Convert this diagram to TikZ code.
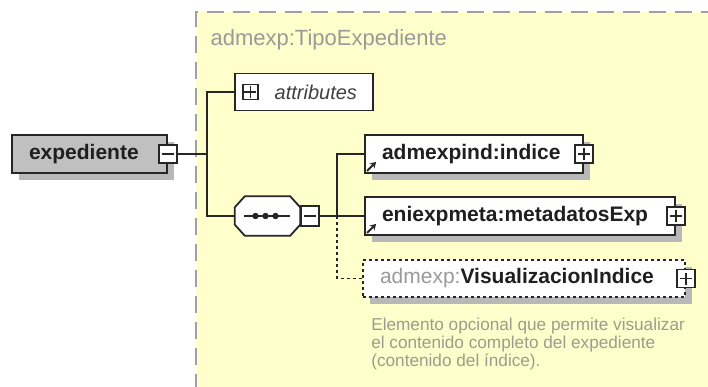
\documentclass[tikz,border=0pt]{standalone}
\usepackage{fontspec}
\setmainfont{Liberation Sans}
\usetikzlibrary{positioning}
\usetikzlibrary{shadows}
\usetikzlibrary{arrows.meta}
\definecolor{panelyellow}{HTML}{FFFFCC}
\definecolor{paneledge}{HTML}{A0A0A0}
\definecolor{shadowgray}{HTML}{B8B8B8}
\definecolor{elemgray}{HTML}{C0C0C0}
\definecolor{titlegray}{HTML}{9A9A9A}
\definecolor{notegray}{HTML}{9C9C8E}

\begin{document}
\begin{tikzpicture}[x=1pt, y=-1pt,  elem/.style={    draw=black!85,    fill=white,    rectangle,    minimum height=38pt,    inner xsep=17pt,    inner ysep=0pt,    align=left,    text=black!88,    font=\fontsize{21}{24}\selectfont\bfseries,    line width=1.8pt,    drop shadow={shadow xshift=7pt, shadow yshift=-7pt, fill=shadowgray, opacity=1}  },  minusbox/.style={    draw=black!85,    fill=white,    minimum size=18pt,    inner sep=0pt,    line width=1.6pt,    path picture={\draw[black!85, line width=1.6pt] ([xshift=-6pt]path picture bounding box.center) -- ([xshift=6pt]path picture bounding box.center);}  },  plusbox/.style={    minusbox,    path picture={\draw[black!85, line width=1.6pt] ([xshift=-6pt]path picture bounding box.center) -- ([xshift=6pt]path picture bounding box.center);      \draw[black!85, line width=1.6pt] ([yshift=-6pt]path picture bounding box.center) -- ([yshift=6pt]path picture bounding box.center);}  },  seqbox/.style={    rectangle,    minimum width=65pt,    minimum height=39pt,    inner sep=0pt  },  refarrow/.style={    -{Stealth[length=6pt,width=7pt]},    line width=2pt,    black!85  },  link/.style={    draw=black!85,    line width=1.8pt  },  optlink/.style={    link,    dash pattern=on 3pt off 3pt  }]
		\useasboundingbox (0,0) rectangle (708,387);
		% Panel
		\fill[panelyellow] (196,12) rectangle (712,391);
		\draw[paneledge, line width=2pt, dash pattern=on 17pt off 9pt] (196,391) -- (196,12) -- (712,12);
		\node[anchor=base west, text=titlegray, font=\fontsize{22}{26}\selectfont] (typename) at (207,46) {admexp:TipoExpediente};
		% Nodes
		\node[elem, fill=elemgray, text width=121pt] (exp) at (89.5,154) {expediente};
		\node[minusbox] (expmin) at (exp.east) {};
		\node[draw=black!85, fill=white, line width=1.8pt, minimum height=37pt, inner xsep=16pt, text width=106pt, align=right, text=black!75, font=\fontsize{20}{24}\selectfont\itshape] (attr) at (304,92) {attributes};
		\node[plusbox, minimum size=15pt, right=8pt of attr.west] (attrplus) {};
		\node[seqbox] (seq) at (267.5,216) {};
		\fill[shadowgray, shift={(6,6)}] ([xshift=10pt]seq.north west) -- ([xshift=-10pt]seq.north east) -- ([yshift=-11pt]seq.north east) -- ([yshift=11pt]seq.south east) -- ([xshift=-10pt]seq.south east) -- ([xshift=10pt]seq.south west) -- ([yshift=11pt]seq.south west) -- ([yshift=-11pt]seq.north west) -- cycle;
		\filldraw[fill=white, draw=black!85, line width=1.8pt] ([xshift=10pt]seq.north west) -- ([xshift=-10pt]seq.north east) -- ([yshift=-11pt]seq.north east) -- ([yshift=11pt]seq.south east) -- ([xshift=-10pt]seq.south east) -- ([xshift=10pt]seq.south west) -- ([yshift=11pt]seq.south west) -- ([yshift=-11pt]seq.north west) -- cycle;
		\draw[black!85, line width=1.8pt] ([xshift=-24pt]seq.center) -- ([xshift=22pt]seq.center);
		\foreach \dx in {-12,-2,8}
			\fill[black!85] ([xshift=\dx pt]seq.center) circle (3.2pt);
		\node[minusbox, minimum height=20pt, right=0pt of seq] (seqmin) {};
		\node[elem, text width=184pt] (ind) at (474,154) {admexpind:indice};
		\node[plusbox] (indplus) at (ind.east) {};
		\node[elem, text width=276pt] (met) at (520,216) {eniexpmeta:metadatosExp};
		\node[plusbox] (metplus) at (met.east) {};
		\node[elem, dash pattern=on 3pt off 3pt, minimum height=37pt, text width=288pt] (vis) at (524,278.5) {\textcolor{titlegray}{\mdseries admexp:}VisualizacionIndice};
		\node[plusbox] (visplus) at (vis.east) {};
		\node[below right=20pt and 9pt of vis.south west, inner sep=0pt, align=left, text=notegray, font=\fontsize{17.2}{17.8}\selectfont] (note) {Elemento opcional que permite visualizar\\el contenido completo del expediente\\(contenido del índice).};
		% Arrows
		\coordinate (fork) at (207,154);
		\coordinate (fork2) at (337,216);
		\draw[link] (expmin) -- (fork) |- (attr);
		\draw[link] (fork) |- (seq);
		\draw[link] (seqmin) -- (fork2) |- (ind);
		\draw[link] (fork2) -- (met);
		\draw[optlink] (fork2) |- (vis);
		\draw[refarrow] ([shift={(3pt,3pt)}]ind.south west) -- ++(9pt,9pt);
		\draw[refarrow] ([shift={(3pt,3pt)}]met.south west) -- ++(9pt,9pt);
	\end{tikzpicture}
\end{document}
